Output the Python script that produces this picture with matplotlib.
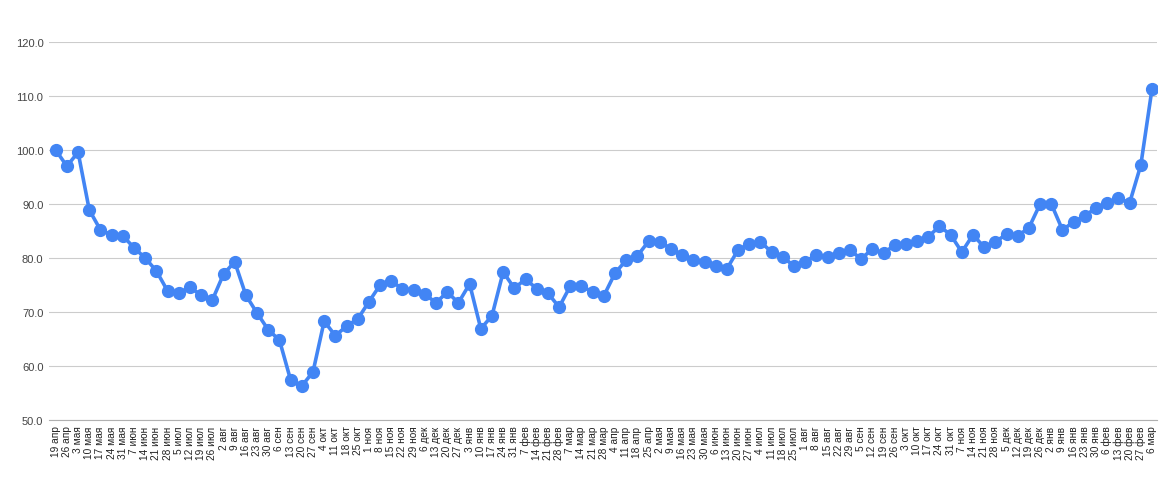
import matplotlib.pyplot as plt

plt.rcParams['font.family'] = ['Liberation Sans', 'DejaVu Sans']

week_labels = [
    '19 апр', '26 апр', '3 мая', '10 мая', '17 мая', '24 мая', '31 мая',
    '7 июн', '14 июн', '21 июн', '28 июн', '5 июл', '12 июл', '19 июл',
    '26 июл', '2 авг', '9 авг', '16 авг', '23 авг', '30 авг', '6 сен',
    '13 сен', '20 сен', '27 сен', '4 окт', '11 окт', '18 окт', '25 окт',
    '1 ноя', '8 ноя', '15 ноя', '22 ноя', '29 ноя', '6 дек', '13 дек',
    '20 дек', '27 дек', '3 янв', '10 янв', '17 янв', '24 янв', '31 янв',
    '7 фев', '14 фев', '21 фев', '28 фев', '7 мар', '14 мар', '21 мар',
    '28 мар', '4 апр', '11 апр', '18 апр', '25 апр', '2 мая', '9 мая',
    '16 мая', '23 мая', '30 мая', '6 июн', '13 июн', '20 июн', '27 июн',
    '4 июл', '11 июл', '18 июл', '25 июл', '1 авг', '8 авг', '15 авг',
    '22 авг', '29 авг', '5 сен', '12 сен', '19 сен', '26 сен', '3 окт',
    '10 окт', '17 окт', '24 окт', '31 окт', '7 ноя', '14 ноя', '21 ноя',
    '28 ноя', '5 дек', '12 дек', '19 дек', '26 дек', '2 янв', '9 янв',
    '16 янв', '23 янв', '30 янв', '6 фев', '13 фев', '20 фев', '27 фев',
    '6 мар',
]

index_values = [
    100.0, 97.0, 99.6, 88.9, 85.2, 84.3, 84.1, 81.9, 80.0, 77.6,
    73.9, 73.5, 74.6, 73.1, 72.2, 77.0, 79.3, 73.1, 69.8, 66.7,
    64.8, 57.4, 56.3, 58.9, 68.3, 65.6, 67.4, 68.7, 71.9, 75.0,
    75.7, 74.3, 74.1, 73.3, 71.7, 73.7, 71.7, 75.2, 66.9, 69.3,
    77.4, 74.4, 76.1, 74.3, 73.5, 70.9, 74.8, 74.8, 73.7, 73.0,
    77.2, 79.6, 80.4, 83.1, 83.0, 81.7, 80.6, 79.6, 79.3, 78.5,
    78.0, 81.5, 82.6, 83.0, 81.1, 80.2, 78.5, 79.3, 80.6, 80.2,
    80.9, 81.5, 79.8, 81.7, 80.9, 82.4, 82.6, 83.1, 83.9, 85.9,
    84.3, 81.1, 84.3, 82.0, 83.0, 84.4, 84.1, 85.6, 90.0, 90.0,
    85.2, 86.7, 87.8, 89.3, 90.2, 91.1, 90.2, 97.2, 111.3,
]

y_ticks = [50, 60, 70, 80, 90, 100, 110, 120]

fig = plt.figure(figsize=(11.75, 5.02), dpi=100)
ax = fig.add_axes([0.0417, 0.1614, 0.943, 0.7529])

x = list(range(len(index_values)))
ax.plot(x, index_values, color='#4285F4', linewidth=2.6, marker='o',
        markersize=8.5, zorder=3)

ax.set_ylim(50, 120)
ax.set_xlim(-0.6, len(index_values) - 0.55)
ax.set_yticks(y_ticks)
ax.set_yticklabels([f'{v:.1f}' for v in y_ticks], fontsize=8, color='#444444')
ax.set_xticks(x)
ax.set_xticklabels(week_labels, rotation=90, fontsize=7.3, color='#222222',
                   va='top')

ax.grid(axis='y', color='#cccccc', linewidth=0.8)
ax.set_axisbelow(True)
for side in ['top', 'right', 'left']:
    ax.spines[side].set_visible(False)
ax.spines['bottom'].set_color('#b0b0b0')
ax.tick_params(axis='both', length=0)
ax.tick_params(axis='y', pad=4)
ax.tick_params(axis='x', pad=4)

fig.savefig('out.png', dpi=100)
